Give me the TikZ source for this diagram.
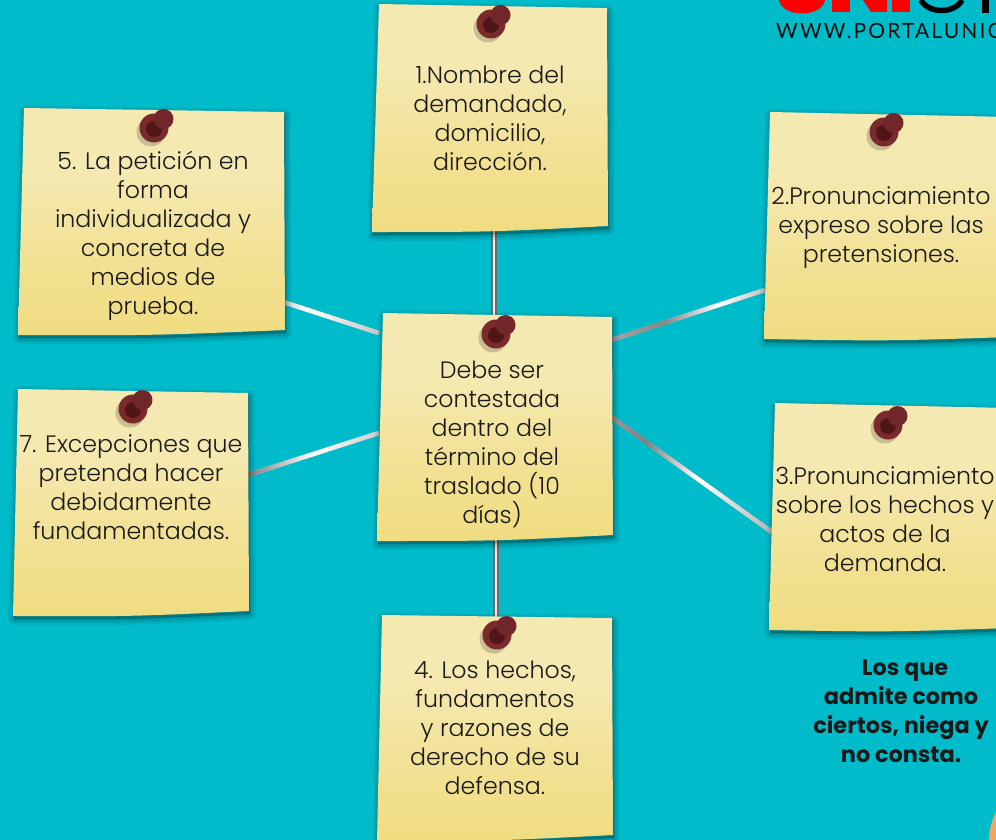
\documentclass[tikz,border=0pt]{standalone}
\usepackage{fontspec}
\setmainfont{Poppins}[UprightFont=* Light, BoldFont=* Bold]
\newfontfamily\logofont{Lato}
\usetikzlibrary{positioning, calc}
\pgfdeclarelayer{links}
\pgfsetlayers{links,main}

\definecolor{seabg}{HTML}{00BCCB}
\definecolor{papertop}{HTML}{F5E9B2}
\definecolor{paperbot}{HTML}{F0DC80}
\definecolor{pinred}{HTML}{7B2A2C}
\definecolor{pindark}{HTML}{4F1517}
\definecolor{logored}{HTML}{FF0000}
\definecolor{peach}{HTML}{F4A460}

\pgfdeclareverticalshading{paperfill}{100bp}{color(0bp)=(paperbot); color(25bp)=(paperbot); color(45bp)=(papertop!50!paperbot); color(62bp)=(papertop); color(100bp)=(papertop)}
\pgfdeclarehorizontalshading{steelA}{100bp}{color(0bp)=(gray!70); color(25bp)=(gray!70); color(42bp)=(gray!95); color(60bp)=(white); color(75bp)=(gray!50); color(100bp)=(gray!50)}
\pgfdeclarehorizontalshading{steelB}{100bp}{color(0bp)=(gray!80); color(25bp)=(gray!80); color(36bp)=(gray!100); color(52bp)=(white); color(75bp)=(gray!60); color(100bp)=(gray!60)}
\pgfdeclarehorizontalshading{steelC}{100bp}{color(0bp)=(gray!40); color(25bp)=(gray!40); color(38bp)=(white); color(75bp)=(gray!45); color(100bp)=(gray!45)}
\pgfdeclarehorizontalshading{steelD}{100bp}{color(0bp)=(gray!100); color(25bp)=(gray!100); color(50bp)=(white); color(75bp)=(gray!40); color(100bp)=(gray!40)}

\tikzset{
  notebox/.style={inner sep=0pt, minimum width=#1, minimum height=222pt},
  notetext/.style={anchor=north, align=center, font=\fontsize{23.7}{29}\selectfont, text=black!90, inner sep=0pt},
  paper/.style={shade, shading=paperfill},
  papershadow/.style={draw=black, fill=black, opacity=.06, line join=round},
  linkbase/.style={line width=4.5pt, gray!60},
  linkbar/.style={inner sep=0pt, minimum height=4.5pt},
  linkplain/.style={draw=gray!85!black, double=white!85!gray, line width=1.8pt, double distance=2.2pt},
}

% paper sheet behind a note: four corners, bottom edge slightly bent
\newcommand{\sheet}[4]{
  \foreach \w in {12,8,5,2}
    \draw[papershadow, line width=\w pt, shift={(1,3)}] (#1) -- (#2) -- (#3) .. controls ($(#3)!.5!(#4)+(0,3)$) .. (#4) -- cycle;
  \path[paper] (#1) -- (#2) -- (#3) .. controls ($(#3)!.5!(#4)+(0,3)$) .. (#4) -- cycle;
}
% the pin, by the centre of its body
\newcommand{\redpin}[1]{
  \begin{scope}[shift={(#1)}]
    \fill[black, opacity=.18] (-3,4) circle (14.5);
    \fill[pinred] (0,0) circle (14.5);
    \fill[pindark] (0,1) ellipse (8 and 8);
    \fill[pinred!92!black] (9.5,-9) circle (10);
  \end{scope}
}
\newcommand{\steellink}[4]{
  \draw[linkbase] (#2) -- (#3);
  \path let \p1=($(#3)-(#2)$), \n1={veclen(\x1,\y1)}, \n2={atan2(\y1,\x1)} in
    node[linkbar, shading=#4, minimum width=\n1, rotate=\n2] (#1) at ($(#2)!.5!(#3)$) {};
}

\begin{document}
\begin{tikzpicture}[x=1pt, y=-1pt]
  \useasboundingbox (0,0) rectangle (996,840);
  \clip (0,0) rectangle (996,840);

  \begin{pgfonlayer}{links}
    \fill[seabg] (0,0) rectangle (996,840);
  \end{pgfonlayer}

  % Logo
  \fill[logored] (779,0) .. controls (782,18) and (822,18) .. (825,0) -- cycle;
  \fill[logored] (832,0) rectangle (850,12);
  \fill[logored] (863,0) -- (871,12) -- (887,12) -- (887,0) -- cycle;
  \fill[logored] (892,0) rectangle (910,12);
  \draw[black, line width=5.5pt] (921,0) .. controls (928,14) and (955,14) .. (962,0);
  \fill[black] (982,0) rectangle (989,13);
  \node (logourl) [anchor=west, inner sep=0pt, text=black!95] at (776,31) {\logofont\fontsize{21}{24}\selectfont\addfontfeature{LetterSpace=10}WWW.PORTALUNIC};

  % Nodes
  \sheet{379,4}{607,8}{608,226}{372,232}
  \redpin{491,24}
  \node (nombre) [notebox=232pt] at (490,118) {};
  \node (nombretxt) [notetext] at (490,66) {1.Nombre del\\demandado,\\domicilio,\\dirección.};

  \sheet{24,108}{284,112}{285,330}{18,335}
  \redpin{154,128}
  \node (peticion) [notebox=264pt] at (151,221) {};
  \node (peticiontxt) [notetext] at (153,151) {5. La petición en\\forma\\individualizada y\\concreta de\\medios de\\prueba.};

  \sheet{770,112}{1010,117}{1010,337}{764,339}
  \redpin{884,132}
  \node (pronuncia) [notebox=240pt] at (885,225) {};
  \node (pronunciatxt) [notetext] at (881,186) {2.Pronunciamiento\\expreso sobre las\\pretensiones.};

  \sheet{18,389}{248,393}{249,611}{13,616}
  \redpin{133,409}
  \node (excepcion) [notebox=234pt] at (131,502) {};
  \node (excepciontxt) [notetext] at (131,434) {7. Excepciones que\\pretenda hacer\\debidamente\\fundamentadas.};

  \sheet{383,313}{612,317}{613,535}{377,541}
  \redpin{496,334}
  \node (centro) [notebox=232pt] at (495,427) {};
  \node (centrotxt) [notetext] at (492,361) {Debe ser\\contestada\\dentro del\\término del\\traslado (10\\días)};

  \sheet{775,403}{1010,408}{1010,628}{769,630}
  \redpin{888,425}
  \node (hechos) [notebox=240pt] at (892,517) {};
  \node (hechostxt) [notetext] at (885,466) {3.Pronunciamiento\\sobre los hechos y\\actos de la\\demanda.};

  \sheet{382,615}{612,618}{613,835}{377,841}
  \redpin{497,635}
  \node (razones) [notebox=232pt] at (495,728) {};
  \node (razonestxt) [notetext] at (495,661) {4. Los hechos,\\fundamentos\\y razones de\\derecho de su\\defensa.};

  \node (admite) [notetext, font=\fontsize{22.4}{29}\selectfont\bfseries] at (901,660) {\hspace{8pt}Los que\\admite como\\ciertos, niega y\\no consta.};

  \fill[peach] (996,812) .. controls (991,822) and (989,832) .. (989,840) -- (996,840) -- cycle;

  % Links
  \begin{pgfonlayer}{links}
    \steellink{linkdos}{[yshift=87pt]centro.east}{[yshift=-65pt]pronuncia.west}{steelA}
    \steellink{linktres}{[yshift=10pt]centro.east}{[yshift=-15pt]hechos.west}{steelB}
    \steellink{linkcinco}{[yshift=-81pt]peticion.east}{[yshift=94pt]centro.west}{steelC}
    \steellink{linksiete}{[yshift=27pt]excepcion.east}{[yshift=-6pt]centro.west}{steelD}
    \draw[linkplain] ([xshift=4pt]nombre.south) -- ([xshift=-1pt]centro.north);
    \draw[linkplain] ([xshift=1pt]centro.south) -- ([xshift=1pt]razones.north);
  \end{pgfonlayer}
\end{tikzpicture}
\end{document}
